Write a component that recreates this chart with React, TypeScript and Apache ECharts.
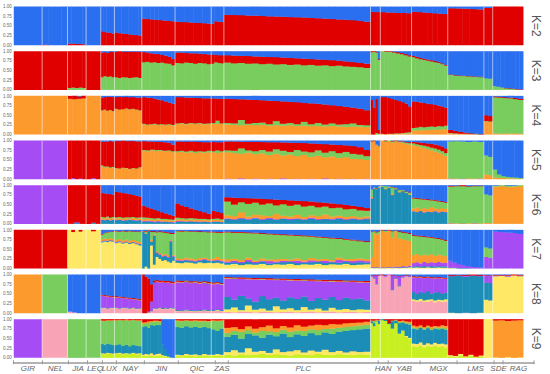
import React, { useEffect, useRef } from "react";
import * as echarts from "echarts";

const BLUE = "#2a6ff0";
const RED = "#e00000";
const GREEN = "#79cc5e";
const ORANGE = "#fd9a2e";
const PURPLE = "#a64cf4";
const TEAL = "#1b8db6";
const YELLOW = "#fee865";
const PINK = "#f8a3b6";
const LIME = "#c8ef20";

const popNames = ["GIR", "NEL", "JIA", "LEQ", "LUX", "NAY", "JIN", "QIC", "ZAS", "PLC", "HAN", "YAB", "MGX", "LMS", "SDE", "RAG"];
const popSizes = [29, 26, 19, 15, 14, 28, 34, 37, 13, 150, 10, 32, 37, 37, 9, 31];
const yTicks = [0, 0.25, 0.5, 0.75, 1];

// Each bar: cumulative top of every cluster layer except the last (bottom -> top); last layer fills to 1.
const k2Colors = [RED, BLUE];
const k2 = [
  [[0]],
  [[0.01], [0], [0], [0]],
  [[0.04], [0.04], [0.03], [0.03], [0.02]],
  [[0]],
  [[0.36], [0.34], [0.33], [0.32], [0.3]],
  [[0.33], [0.31], [0.3], [0.29], [0.28], [0.27], [0.26], [0.25]],
  [[0.69], [0.68], [0.67], [0.66], [0.65], [0.64], [0.63], [0.62]],
  [[0.61], [0.6], [0.6], [0.59], [0.58], [0.58], [0.57], [0.56]],
  [[0.56], [0.62], [0.61], [0.6]],
  [[0.79], [0.785], [0.78], [0.77], [0.765], [0.76], [0.75], [0.745], [0.74], [0.73], [0.725], [0.72], [0.71], [0.7], [0.69], [0.68], [0.67], [0.66], [0.65], [0.63], [0.61]],
  [[0.87], [0.86], [0.86]],
  [[0.86], [0.85], [0.85], [0.84], [0.84], [0.83]],
  [[0.87], [0.86], [0.85], [0.84], [0.83], [0.82], [0.81]],
  [[0.96], [0.955], [0.95], [0.94], [0.93]],
  [[0.97]],
  [[1]],
];

const k3Colors = [GREEN, RED, BLUE];
const k3 = [
  [[0, 1]],
  [[0, 1]],
  [[0.05, 1], [0.06, 1], [0.05, 1], [0.06, 1], [0.05, 1]],
  [[0, 1]],
  [[0.33, 0.97], [0.36, 0.98], [0.34, 0.96], [0.35, 0.99], [0.33, 0.99]],
  [[0.33, 0.99], [0.31, 1], [0.33, 0.99], [0.32, 0.99], [0.31, 0.99], [0.32, 0.99], [0.33, 0.99], [0.31, 0.99]],
  [[0.72, 0.98], [0.73, 0.97], [0.71, 0.95], [0.72, 0.94], [0.7, 0.93], [0.71, 0.91], [0.69, 0.89], [0.68, 0.86], [0.64, 0.8]],
  [[0.7, 0.97], [0.69, 0.97], [0.71, 0.96], [0.7, 0.95], [0.68, 0.95], [0.7, 0.94], [0.69, 0.93], [0.67, 0.92]],
  [[0.68, 0.92], [0.72, 0.91], [0.7, 0.9], [0.69, 0.9]],
  [[0.71, 0.9], [0.69, 0.89], [0.7, 0.885], [0.68, 0.88], [0.69, 0.87], [0.67, 0.86], [0.68, 0.855], [0.66, 0.85], [0.67, 0.84], [0.65, 0.83], [0.66, 0.82], [0.64, 0.81], [0.65, 0.8], [0.63, 0.79], [0.64, 0.78], [0.62, 0.77], [0.63, 0.76], [0.61, 0.74], [0.6, 0.72], [0.59, 0.7], [0.57, 0.68]],
  [[0.98, 1], [0.99, 1], [0.97, 0.99], [0.78, 0.8]],
  [[1, 1], [0.99, 1], [0.99, 1], [0.97, 0.99], [0.95, 0.98], [0.93, 0.96], [0.9, 0.93], [0.87, 0.9]],
  [[0.85, 0.88], [0.82, 0.86], [0.8, 0.83], [0.78, 0.81], [0.76, 0.79], [0.74, 0.77], [0.72, 0.75], [0.7, 0.72], [0.67, 0.69], [0.63, 0.65]],
  [[0.39, 0.4], [0.37, 0.38], [0.36, 0.37], [0.35, 0.36], [0.34, 0.35], [0.33, 0.34]],
  [[0.3, 0.3], [0.29, 0.29]],
  [[0.1, 0.1], [0.08, 0.08], [0.06, 0.06], [0.04, 0.05], [0.03, 0.04], [0.02, 0.03], [0.01, 0.02], [0, 0.01]],
];

const k4Colors = [ORANGE, GREEN, RED, BLUE];
const k4 = [
  [[1, 1, 1]],
  [[1, 1, 1]],
  [[0.93, 0.93, 1], [0.92, 0.92, 1], [0.93, 0.93, 0.99], [0.94, 0.94, 1]],
  [[1, 1, 1]],
  [[0.62, 0.63, 0.96], [0.64, 0.65, 0.97], [0.61, 0.62, 0.98], [0.63, 0.64, 0.98], [0.6, 0.61, 0.97]],
  [[0.66, 0.67, 0.97], [0.64, 0.65, 0.98], [0.66, 0.66, 0.97], [0.67, 0.68, 0.98], [0.65, 0.66, 0.97], [0.66, 0.67, 0.97], [0.64, 0.65, 0.96], [0.62, 0.63, 0.96]],
  [[0.26, 0.28, 0.97], [0.24, 0.26, 0.96], [0.25, 0.27, 0.95], [0.26, 0.28, 0.93], [0.24, 0.26, 0.91], [0.25, 0.27, 0.89], [0.24, 0.26, 0.86], [0.25, 0.27, 0.83], [0.23, 0.25, 0.8]],
  [[0.27, 0.29, 0.97], [0.28, 0.3, 0.97], [0.26, 0.28, 0.96], [0.28, 0.3, 0.96], [0.27, 0.29, 0.95], [0.28, 0.3, 0.95], [0.26, 0.28, 0.94], [0.27, 0.29, 0.94]],
  [[0.27, 0.3, 0.94], [0.28, 0.36, 0.93], [0.27, 0.29, 0.93]],
  [[0.26, 0.3, 0.93], [0.25, 0.29, 0.92], [0.24, 0.38, 0.915], [0.25, 0.28, 0.91], [0.24, 0.3, 0.9], [0.25, 0.31, 0.89], [0.23, 0.27, 0.88], [0.24, 0.35, 0.87], [0.23, 0.28, 0.86], [0.24, 0.3, 0.85], [0.22, 0.27, 0.84], [0.23, 0.33, 0.82], [0.22, 0.27, 0.81], [0.22, 0.3, 0.8], [0.21, 0.26, 0.78], [0.22, 0.29, 0.76], [0.21, 0.26, 0.74], [0.2, 0.27, 0.72], [0.21, 0.29, 0.7], [0.2, 0.25, 0.67], [0.19, 0.24, 0.63]],
  [[0, 0, 0.9], [0, 0, 0.7], [0, 0.04, 0.92], [0, 0.02, 0.12]],
  [[0.02, 0.02, 0.97], [0.01, 0.01, 0.97], [0.02, 0.02, 0.95], [0.01, 0.02, 0.92], [0.02, 0.03, 0.9], [0.02, 0.03, 0.87], [0.03, 0.04, 0.84], [0.02, 0.05, 0.8], [0.03, 0.06, 0.73]],
  [[0.1, 0.17, 0.86], [0.11, 0.18, 0.85], [0.1, 0.2, 0.83], [0.12, 0.19, 0.82], [0.11, 0.2, 0.8], [0.12, 0.21, 0.79], [0.13, 0.2, 0.77], [0.12, 0.22, 0.75], [0.13, 0.21, 0.73], [0.14, 0.23, 0.7]],
  [[0.03, 0.04, 0.12], [0.02, 0.03, 0.09], [0.02, 0.02, 0.07], [0.01, 0.02, 0.05], [0.01, 0.01, 0.03], [0, 0.01, 0.02], [0, 0, 0.01]],
  [[0.34, 0.35, 0.5], [0.33, 0.34, 0.48]],
  [[0.03, 0.97, 0.99], [0.02, 0.96, 0.98], [0.03, 0.95, 0.97], [0.02, 0.94, 0.96], [0.03, 0.92, 0.95], [0.02, 0.9, 0.93]],
];

const k5Colors = [PURPLE, ORANGE, GREEN, RED, BLUE];
const k5 = [
  [[1, 1, 1, 1]],
  [[1, 1, 1, 1]],
  [[0, 0, 0, 1], [0.03, 0.03, 0.03, 1], [0, 0, 0, 1], [0.02, 0.02, 0.02, 1], [0, 0, 0, 1]],
  [[0, 0, 0, 1], [0.03, 0.03, 0.03, 1], [0, 0, 0, 1]],
  [[0, 0.33, 0.36, 0.97], [0, 0.3, 0.33, 0.98], [0, 0.31, 0.33, 0.98], [0, 0.29, 0.31, 0.99], [0, 0.3, 0.32, 0.98]],
  [[0, 0.28, 0.29, 0.99], [0, 0.27, 0.28, 0.99], [0, 0.29, 0.3, 1], [0, 0.28, 0.29, 0.99], [0, 0.26, 0.27, 0.99], [0, 0.28, 0.29, 0.99], [0, 0.27, 0.28, 0.98], [0, 0.3, 0.31, 0.98]],
  [[0, 0.74, 0.76, 0.99], [0, 0.72, 0.75, 0.98], [0, 0.75, 0.77, 0.98], [0, 0.73, 0.76, 0.97], [0, 0.74, 0.76, 0.97], [0, 0.72, 0.74, 0.96], [0, 0.73, 0.75, 0.95], [0, 0.7, 0.73, 0.9]],
  [[0, 0.7, 0.73, 0.98], [0, 0.71, 0.74, 0.98], [0, 0.69, 0.72, 0.97], [0, 0.7, 0.74, 0.98], [0, 0.68, 0.72, 0.97], [0, 0.7, 0.73, 0.97], [0, 0.69, 0.72, 0.96], [0, 0.7, 0.74, 0.96]],
  [[0, 0.7, 0.73, 0.97], [0, 0.68, 0.75, 0.96], [0, 0.7, 0.73, 0.96]],
  [[0.01, 0.7, 0.75, 0.98], [0, 0.68, 0.74, 0.98], [0.02, 0.66, 0.8, 0.975], [0, 0.69, 0.75, 0.97], [0.01, 0.65, 0.73, 0.97], [0, 0.67, 0.76, 0.965], [0.01, 0.63, 0.72, 0.96], [0, 0.66, 0.78, 0.96], [0.02, 0.62, 0.74, 0.955], [0, 0.64, 0.71, 0.95], [0.01, 0.6, 0.76, 0.945], [0, 0.63, 0.72, 0.94], [0.01, 0.58, 0.7, 0.93], [0, 0.61, 0.75, 0.92], [0.02, 0.57, 0.69, 0.91], [0, 0.59, 0.73, 0.9], [0.01, 0.55, 0.68, 0.89], [0, 0.57, 0.71, 0.88], [0.01, 0.53, 0.66, 0.86], [0, 0.52, 0.64, 0.83], [0.01, 0.5, 0.6, 0.76]],
  [[0, 0.97, 0.98, 0.99], [0, 0.99, 0.99, 1], [0, 0.9, 0.9, 0.9], [0, 0.85, 0.86, 0.87]],
  [[0, 1, 1, 1], [0, 0.97, 0.99, 1], [0, 0.99, 1, 1], [0, 0.95, 0.98, 0.99], [0, 0.98, 0.99, 1], [0, 0.96, 0.98, 0.99], [0, 0.94, 0.97, 0.98], [0, 0.92, 0.95, 0.97], [0, 0.9, 0.94, 0.96]],
  [[0, 0.88, 0.93, 0.97], [0, 0.86, 0.91, 0.96], [0, 0.83, 0.89, 0.95], [0, 0.81, 0.87, 0.94], [0, 0.78, 0.85, 0.93], [0, 0.75, 0.82, 0.92], [0, 0.72, 0.8, 0.9], [0, 0.69, 0.77, 0.88], [0, 0.65, 0.73, 0.85], [0, 0.6, 0.68, 0.8]],
  [[0.01, 0.02, 0.98, 0.98], [0, 0.01, 0.99, 0.99], [0.01, 0.01, 0.98, 0.98], [0, 0.02, 0.97, 0.97], [0, 0.01, 0.98, 0.98], [0.01, 0.02, 0.97, 0.97]],
  [[0, 0.12, 0.62, 0.62], [0, 0.1, 0.58, 0.58]],
  [[0, 0.04, 0.25, 0.25], [0, 0.03, 0.12, 0.12], [0, 0.03, 0.08, 0.08], [0, 0.02, 0.06, 0.06], [0, 0.02, 0.05, 0.05], [0, 0.01, 0.04, 0.04], [0, 0.01, 0.03, 0.03]],
];

const k6Colors = [TEAL, PURPLE, ORANGE, GREEN, RED, BLUE];
const k6 = [
  [[0, 1, 1, 1, 1]],
  [[0, 1, 1, 1, 1]],
  [[0, 0, 0, 0, 1], [0.02, 0.04, 0.04, 0.04, 1], [0, 0, 0, 0, 1]],
  [[0, 0, 0, 0, 1], [0.03, 0.03, 0.03, 0.03, 1], [0, 0, 0, 0, 1]],
  [[0.1, 0.11, 0.15, 0.18, 0.8], [0.09, 0.1, 0.14, 0.17, 0.79], [0.1, 0.11, 0.16, 0.19, 0.78], [0.08, 0.09, 0.13, 0.16, 0.77], [0.1, 0.11, 0.15, 0.18, 0.76]],
  [[0.09, 0.1, 0.14, 0.17, 0.83], [0.1, 0.11, 0.15, 0.18, 0.82], [0.08, 0.09, 0.13, 0.16, 0.8], [0.09, 0.1, 0.15, 0.17, 0.79], [0.1, 0.11, 0.14, 0.17, 0.77], [0.09, 0.1, 0.15, 0.18, 0.75], [0.08, 0.09, 0.13, 0.16, 0.73], [0.09, 0.1, 0.14, 0.17, 0.71]],
  [[0.05, 0.07, 0.12, 0.17, 0.47], [0.06, 0.08, 0.13, 0.16, 0.43], [0.05, 0.07, 0.11, 0.15, 0.4], [0.04, 0.06, 0.1, 0.14, 0.36], [0.05, 0.07, 0.11, 0.15, 0.33], [0.04, 0.06, 0.1, 0.13, 0.3], [0.05, 0.06, 0.1, 0.13, 0.27], [0.04, 0.05, 0.09, 0.12, 0.24], [0.03, 0.05, 0.08, 0.11, 0.21]],
  [[0.05, 0.07, 0.11, 0.16, 0.53], [0.06, 0.07, 0.12, 0.15, 0.48], [0.05, 0.06, 0.1, 0.14, 0.44], [0.06, 0.07, 0.11, 0.15, 0.4], [0.05, 0.06, 0.1, 0.14, 0.36], [0.04, 0.06, 0.1, 0.13, 0.33], [0.05, 0.06, 0.1, 0.13, 0.3], [0.04, 0.05, 0.09, 0.12, 0.26]],
  [[0.05, 0.06, 0.1, 0.13, 0.34], [0.05, 0.06, 0.1, 0.14, 0.31], [0.04, 0.05, 0.09, 0.12, 0.28]],
  [[0.12, 0.14, 0.22, 0.58, 0.69], [0.1, 0.12, 0.2, 0.5, 0.68], [0.13, 0.15, 0.3, 0.56, 0.67], [0.11, 0.13, 0.19, 0.52, 0.665], [0.14, 0.16, 0.24, 0.55, 0.66], [0.1, 0.12, 0.22, 0.5, 0.65], [0.12, 0.15, 0.2, 0.53, 0.64], [0.11, 0.12, 0.26, 0.48, 0.63], [0.13, 0.14, 0.21, 0.51, 0.62], [0.1, 0.13, 0.19, 0.47, 0.61], [0.12, 0.14, 0.23, 0.5, 0.6], [0.11, 0.12, 0.18, 0.45, 0.59], [0.13, 0.16, 0.22, 0.47, 0.58], [0.1, 0.12, 0.2, 0.43, 0.56], [0.12, 0.13, 0.24, 0.45, 0.55], [0.11, 0.13, 0.19, 0.41, 0.53], [0.13, 0.15, 0.21, 0.42, 0.51], [0.1, 0.12, 0.18, 0.38, 0.49], [0.12, 0.14, 0.2, 0.39, 0.47], [0.11, 0.12, 0.17, 0.35, 0.44], [0.12, 0.14, 0.19, 0.34, 0.41]],
  [[0.65, 0.66, 0.7, 0.9, 0.9], [0.92, 0.92, 0.93, 0.95, 0.95], [0.9, 0.9, 0.91, 0.92, 0.93], [0.94, 0.94, 0.95, 0.97, 0.97]],
  [[0.96, 0.96, 0.97, 0.99, 0.99], [0.9, 0.9, 0.92, 0.98, 0.98], [0.94, 0.94, 0.95, 0.97, 0.97], [0.75, 0.75, 0.78, 0.95, 0.96], [0.9, 0.9, 0.91, 0.93, 0.94], [0.82, 0.82, 0.84, 0.88, 0.89], [0.85, 0.85, 0.86, 0.88, 0.88], [0.8, 0.8, 0.81, 0.84, 0.85], [0.76, 0.76, 0.78, 0.81, 0.82]],
  [[0.32, 0.33, 0.4, 0.66, 0.68], [0.3, 0.31, 0.42, 0.65, 0.67], [0.33, 0.34, 0.38, 0.64, 0.66], [0.29, 0.3, 0.41, 0.63, 0.65], [0.31, 0.32, 0.39, 0.62, 0.64], [0.3, 0.31, 0.43, 0.61, 0.63], [0.32, 0.33, 0.4, 0.6, 0.62], [0.29, 0.3, 0.38, 0.58, 0.6], [0.31, 0.32, 0.41, 0.57, 0.59], [0.3, 0.31, 0.39, 0.55, 0.57]],
  [[0, 0.01, 0.02, 0.97, 0.99], [0, 0, 0.01, 0.98, 0.99], [0.01, 0.01, 0.02, 0.98, 1], [0, 0, 0.01, 0.97, 0.98], [0, 0.01, 0.02, 0.98, 0.99], [0, 0, 0.01, 0.98, 0.99]],
  [[0, 0, 0.02, 0.77, 0.77], [0, 0, 0.02, 0.74, 0.74]],
  [[0, 0, 0.97, 0.99, 0.99], [0, 0, 0.98, 1, 1], [0, 0, 0.96, 0.99, 0.99], [0, 0, 0.97, 0.99, 0.99], [0, 0, 0.98, 1, 1]],
];

const k7Colors = [YELLOW, TEAL, PURPLE, ORANGE, GREEN, RED, BLUE];
const k7 = [
  [[0, 0, 0, 0, 0, 1]],
  [[0, 0, 0, 0, 0, 1]],
  [[1, 1, 1, 1, 1, 1], [0.95, 0.95, 0.95, 0.95, 0.95, 1], [1, 1, 1, 1, 1, 1], [0.96, 0.96, 0.96, 0.96, 0.96, 1], [1, 1, 1, 1, 1, 1]],
  [[1, 1, 1, 1, 1, 1], [0.97, 0.97, 0.97, 0.97, 0.97, 1], [1, 1, 1, 1, 1, 1]],
  [[0.68, 0.7, 0.71, 0.76, 0.88, 0.9], [0.7, 0.72, 0.73, 0.78, 0.92, 0.93], [0.69, 0.71, 0.72, 0.77, 0.94, 0.95], [0.71, 0.73, 0.74, 0.79, 0.95, 0.96], [0.7, 0.72, 0.73, 0.77, 0.96, 0.97]],
  [[0.66, 0.68, 0.69, 0.74, 0.97, 0.98], [0.68, 0.7, 0.71, 0.76, 0.96, 0.97], [0.65, 0.67, 0.68, 0.73, 0.97, 0.98], [0.67, 0.69, 0.7, 0.75, 0.96, 0.97], [0.64, 0.66, 0.67, 0.72, 0.97, 0.98], [0.66, 0.68, 0.69, 0.74, 0.96, 0.97], [0.63, 0.65, 0.66, 0.71, 0.96, 0.97], [0.6, 0.63, 0.64, 0.69, 0.95, 0.96]],
  [[0, 0.95, 0.95, 0.95, 0.97, 0.98], [0.05, 0.9, 0.9, 0.92, 0.96, 0.98], [0, 0.98, 0.98, 0.98, 0.99, 1], [0.6, 0.7, 0.7, 0.75, 0.95, 0.97], [0.1, 0.85, 0.86, 0.88, 0.95, 0.97], [0.3, 0.4, 0.42, 0.45, 0.94, 0.96], [0.25, 0.35, 0.37, 0.4, 0.95, 0.97], [0.2, 0.3, 0.32, 0.36, 0.94, 0.96], [0.22, 0.32, 0.34, 0.38, 0.93, 0.95], [0.18, 0.28, 0.3, 0.34, 0.92, 0.94], [0.15, 0.7, 0.72, 0.74, 0.9, 0.93], [0.2, 0.3, 0.32, 0.35, 0.9, 0.92]],
  [[0.15, 0.2, 0.22, 0.27, 0.97, 0.98], [0.14, 0.19, 0.21, 0.25, 0.96, 0.98], [0.16, 0.21, 0.23, 0.28, 0.97, 0.98], [0.15, 0.19, 0.21, 0.26, 0.96, 0.97], [0.13, 0.18, 0.2, 0.24, 0.96, 0.97], [0.16, 0.2, 0.22, 0.27, 0.95, 0.97], [0.14, 0.22, 0.24, 0.28, 0.95, 0.96], [0.15, 0.2, 0.21, 0.25, 0.94, 0.96]],
  [[0.14, 0.19, 0.21, 0.26, 0.94, 0.96], [0.15, 0.2, 0.22, 0.3, 0.93, 0.95], [0.13, 0.18, 0.2, 0.25, 0.93, 0.95]],
  [[0.1, 0.15, 0.18, 0.24, 0.94, 0.96], [0.12, 0.16, 0.2, 0.25, 0.93, 0.95], [0.09, 0.14, 0.17, 0.22, 0.93, 0.95], [0.11, 0.17, 0.22, 0.28, 0.92, 0.94], [0.1, 0.14, 0.17, 0.21, 0.91, 0.93], [0.12, 0.18, 0.2, 0.26, 0.9, 0.92], [0.09, 0.13, 0.19, 0.23, 0.89, 0.91], [0.11, 0.15, 0.18, 0.24, 0.88, 0.9], [0.1, 0.16, 0.2, 0.25, 0.87, 0.89], [0.12, 0.17, 0.19, 0.23, 0.86, 0.88], [0.09, 0.14, 0.2, 0.26, 0.85, 0.87], [0.11, 0.15, 0.18, 0.22, 0.84, 0.86], [0.1, 0.16, 0.21, 0.27, 0.83, 0.85], [0.12, 0.17, 0.19, 0.24, 0.81, 0.83], [0.09, 0.14, 0.2, 0.25, 0.8, 0.82], [0.11, 0.16, 0.18, 0.22, 0.78, 0.8], [0.1, 0.15, 0.22, 0.28, 0.77, 0.79], [0.12, 0.17, 0.2, 0.24, 0.75, 0.77], [0.09, 0.14, 0.19, 0.25, 0.73, 0.75], [0.1, 0.16, 0.21, 0.26, 0.71, 0.73], [0.11, 0.15, 0.19, 0.24, 0.69, 0.71]],
  [[0.02, 0.03, 0.04, 0.3, 0.95, 0.96], [0.01, 0.02, 0.03, 0.92, 0.97, 0.98], [0.02, 0.03, 0.04, 0.88, 0.94, 0.95], [0.01, 0.02, 0.03, 0.9, 0.96, 0.97]],
  [[0.01, 0.02, 0.03, 0.97, 0.99, 1], [0.01, 0.02, 0.03, 0.95, 0.98, 0.99], [0.02, 0.03, 0.04, 0.98, 0.99, 1], [0.01, 0.02, 0.03, 0.8, 0.97, 0.98], [0.02, 0.03, 0.05, 0.96, 0.98, 0.99], [0.01, 0.02, 0.04, 0.78, 0.95, 0.97], [0.02, 0.04, 0.06, 0.76, 0.93, 0.95], [0.02, 0.03, 0.05, 0.74, 0.92, 0.94], [0.03, 0.04, 0.07, 0.72, 0.9, 0.92]],
  [[0.02, 0.05, 0.14, 0.35, 0.85, 0.87], [0.03, 0.06, 0.16, 0.38, 0.84, 0.86], [0.02, 0.05, 0.13, 0.33, 0.83, 0.85], [0.02, 0.06, 0.17, 0.36, 0.82, 0.84], [0.03, 0.05, 0.14, 0.34, 0.81, 0.83], [0.02, 0.06, 0.16, 0.37, 0.8, 0.82], [0.02, 0.05, 0.15, 0.33, 0.78, 0.8], [0.03, 0.06, 0.17, 0.36, 0.77, 0.79], [0.02, 0.05, 0.14, 0.34, 0.75, 0.77], [0.02, 0.05, 0.15, 0.32, 0.72, 0.74]],
  [[0.01, 0.02, 0.2, 0.2, 0.2, 0.2], [0.01, 0.02, 0.15, 0.15, 0.15, 0.15], [0, 0.01, 0.11, 0.11, 0.11, 0.11], [0, 0.01, 0.08, 0.08, 0.08, 0.08], [0, 0.01, 0.06, 0.06, 0.06, 0.06], [0, 0, 0.04, 0.04, 0.04, 0.04], [0, 0, 0.03, 0.03, 0.03, 0.03], [0, 0, 0.02, 0.02, 0.02, 0.02]],
  [[0, 0, 0.3, 0.3, 0.55, 0.55], [0, 0, 0.28, 0.28, 0.52, 0.52]],
  [[0, 0, 0.96, 0.96, 0.96, 0.96], [0, 0, 0.95, 0.95, 0.95, 0.95], [0, 0, 0.94, 0.94, 0.94, 0.94], [0, 0, 0.93, 0.93, 0.93, 0.93], [0, 0, 0.92, 0.92, 0.92, 0.92], [0, 0, 0.9, 0.9, 0.9, 0.9]],
];

const k8Colors = [PINK, YELLOW, TEAL, PURPLE, ORANGE, GREEN, RED, BLUE];
const k8 = [
  [[0, 0, 0, 0, 1, 1, 1]],
  [[0, 0, 0, 0, 0, 1, 1]],
  [[0.04, 0.04, 0.04, 0.04, 0.04, 0.04, 0.04], [0.02, 0.02, 0.02, 0.02, 0.02, 0.02, 0.02], [0, 0, 0, 0, 0, 0, 0], [0, 0, 0, 0, 0, 0, 0]],
  [[0, 0, 0, 0, 0, 0, 0]],
  [[0.12, 0.13, 0.14, 0.45, 0.46, 0.46, 0.48], [0.13, 0.14, 0.15, 0.44, 0.45, 0.45, 0.47], [0.11, 0.12, 0.13, 0.43, 0.44, 0.44, 0.46], [0.12, 0.13, 0.14, 0.42, 0.43, 0.43, 0.45], [0.13, 0.14, 0.15, 0.41, 0.42, 0.42, 0.44]],
  [[0.12, 0.13, 0.14, 0.41, 0.42, 0.42, 0.44], [0.11, 0.12, 0.13, 0.4, 0.41, 0.41, 0.43], [0.13, 0.14, 0.15, 0.39, 0.4, 0.4, 0.42], [0.12, 0.13, 0.14, 0.38, 0.39, 0.39, 0.41], [0.11, 0.12, 0.13, 0.37, 0.38, 0.38, 0.4], [0.12, 0.13, 0.14, 0.36, 0.37, 0.37, 0.39], [0.1, 0.11, 0.12, 0.35, 0.36, 0.36, 0.38], [0.11, 0.12, 0.13, 0.33, 0.34, 0.34, 0.36]],
  [[0, 0, 0, 0, 0, 0, 1], [0, 0, 0, 0, 0, 0, 0.95], [0.02, 0.02, 0.03, 0.05, 0.05, 0.05, 0.9], [0.05, 0.05, 0.06, 0.3, 0.3, 0.3, 0.75], [0.1, 0.12, 0.13, 0.8, 0.8, 0.8, 0.85], [0.1, 0.11, 0.12, 0.82, 0.83, 0.83, 0.86], [0.12, 0.13, 0.14, 0.8, 0.81, 0.81, 0.85], [0.1, 0.11, 0.13, 0.81, 0.82, 0.82, 0.85], [0.11, 0.12, 0.14, 0.79, 0.8, 0.8, 0.84], [0.1, 0.11, 0.12, 0.8, 0.81, 0.81, 0.84], [0.12, 0.13, 0.15, 0.78, 0.79, 0.79, 0.83], [0.1, 0.12, 0.13, 0.77, 0.78, 0.78, 0.81]],
  [[0.05, 0.06, 0.08, 0.8, 0.81, 0.82, 0.85], [0.04, 0.05, 0.07, 0.79, 0.8, 0.81, 0.84], [0.06, 0.07, 0.09, 0.81, 0.82, 0.83, 0.85], [0.05, 0.06, 0.08, 0.78, 0.79, 0.8, 0.83], [0.04, 0.05, 0.07, 0.8, 0.81, 0.82, 0.84], [0.05, 0.06, 0.08, 0.77, 0.78, 0.79, 0.82], [0.06, 0.07, 0.09, 0.79, 0.8, 0.81, 0.83], [0.05, 0.06, 0.08, 0.76, 0.77, 0.78, 0.81]],
  [[0.05, 0.06, 0.08, 0.75, 0.76, 0.77, 0.8], [0.06, 0.08, 0.1, 0.77, 0.78, 0.79, 0.81], [0.05, 0.06, 0.08, 0.74, 0.75, 0.76, 0.78]],
  [[0.03, 0.1, 0.42, 0.9, 0.91, 0.92, 0.94], [0.02, 0.15, 0.35, 0.89, 0.9, 0.91, 0.93], [0.04, 0.08, 0.45, 0.89, 0.9, 0.9, 0.93], [0.03, 0.2, 0.38, 0.88, 0.89, 0.9, 0.92], [0.02, 0.09, 0.3, 0.88, 0.89, 0.89, 0.92], [0.04, 0.12, 0.44, 0.87, 0.88, 0.89, 0.91], [0.03, 0.07, 0.36, 0.87, 0.88, 0.88, 0.91], [0.02, 0.18, 0.4, 0.86, 0.87, 0.88, 0.9], [0.03, 0.1, 0.33, 0.86, 0.87, 0.87, 0.9], [0.04, 0.13, 0.41, 0.85, 0.86, 0.87, 0.89], [0.02, 0.08, 0.37, 0.85, 0.86, 0.86, 0.89], [0.03, 0.16, 0.43, 0.84, 0.85, 0.86, 0.88], [0.04, 0.09, 0.32, 0.84, 0.85, 0.85, 0.88], [0.02, 0.12, 0.39, 0.83, 0.84, 0.85, 0.87], [0.03, 0.07, 0.35, 0.83, 0.84, 0.84, 0.87], [0.04, 0.14, 0.42, 0.82, 0.83, 0.84, 0.86], [0.02, 0.09, 0.34, 0.82, 0.83, 0.83, 0.86], [0.03, 0.11, 0.4, 0.81, 0.82, 0.83, 0.85], [0.04, 0.08, 0.36, 0.81, 0.82, 0.82, 0.85], [0.02, 0.1, 0.38, 0.8, 0.81, 0.82, 0.84], [0.03, 0.09, 0.33, 0.8, 0.81, 0.81, 0.84]],
  [[0.95, 0.95, 0.95, 0.97, 0.97, 0.97, 0.98], [0.9, 0.9, 0.92, 0.98, 0.98, 0.98, 0.99], [0.75, 0.75, 0.76, 0.98, 0.98, 0.98, 0.99], [0.97, 0.97, 0.97, 0.98, 0.98, 0.98, 0.99]],
  [[0.98, 0.98, 0.98, 0.99, 0.99, 0.99, 1], [0.95, 0.95, 0.95, 0.98, 0.98, 0.98, 0.99], [0.99, 0.99, 0.99, 1, 1, 1, 1], [0.6, 0.6, 0.62, 0.98, 0.98, 0.98, 0.99], [0.9, 0.9, 0.91, 0.97, 0.97, 0.97, 0.98], [0.7, 0.7, 0.72, 0.96, 0.96, 0.96, 0.97], [0.93, 0.93, 0.94, 0.97, 0.97, 0.97, 0.98], [0.96, 0.96, 0.96, 0.98, 0.98, 0.98, 0.99], [0.94, 0.94, 0.95, 0.97, 0.97, 0.97, 0.98]],
  [[0.32, 0.36, 0.55, 0.93, 0.94, 0.94, 0.96], [0.3, 0.34, 0.5, 0.92, 0.93, 0.93, 0.95], [0.31, 0.37, 0.56, 0.93, 0.94, 0.94, 0.96], [0.29, 0.33, 0.52, 0.91, 0.92, 0.92, 0.94], [0.3, 0.35, 0.57, 0.92, 0.93, 0.93, 0.95], [0.32, 0.36, 0.51, 0.91, 0.92, 0.92, 0.94], [0.28, 0.33, 0.54, 0.9, 0.91, 0.91, 0.93], [0.31, 0.35, 0.55, 0.91, 0.92, 0.92, 0.94], [0.29, 0.34, 0.5, 0.9, 0.91, 0.91, 0.93], [0.3, 0.36, 0.53, 0.89, 0.9, 0.9, 0.92]],
  [[0, 0.01, 0.96, 0.97, 0.97, 0.97, 0.99], [0, 0, 0.97, 0.98, 0.98, 0.98, 0.99], [0.01, 0.01, 0.95, 0.97, 0.97, 0.97, 0.99], [0, 0, 0.97, 0.98, 0.98, 0.98, 1], [0, 0.01, 0.96, 0.97, 0.97, 0.97, 0.99]],
  [[0, 0.35, 0.8, 0.98, 0.98, 0.98, 0.99], [0, 0.33, 0.78, 0.97, 0.97, 0.97, 0.98]],
  [[0, 0.96, 0.96, 0.97, 0.98, 0.98, 0.99], [0, 0.97, 0.97, 0.98, 0.98, 0.98, 0.99], [0, 0.95, 0.95, 0.97, 0.98, 0.98, 0.99], [0, 0.97, 0.97, 0.98, 0.99, 0.99, 1], [0, 0.96, 0.96, 0.97, 0.98, 0.98, 0.99]],
];

const k9Colors = [LIME, YELLOW, TEAL, PURPLE, PINK, BLUE, GREEN, ORANGE, RED];
const k9 = [
  [[0, 0, 0, 1, 1, 1, 1, 1]],
  [[0, 0, 0, 0, 1, 1, 1, 1]],
  [[0, 0, 0, 0, 0, 0, 1, 1]],
  [[0, 0, 0, 0, 0, 0, 1, 1]],
  [[0.1, 0.12, 0.36, 0.36, 0.36, 0.36, 0.95, 0.97], [0.09, 0.11, 0.34, 0.34, 0.34, 0.34, 0.96, 0.97], [0.11, 0.13, 0.37, 0.37, 0.37, 0.37, 0.97, 0.98], [0.1, 0.12, 0.35, 0.35, 0.35, 0.35, 0.96, 0.98], [0.09, 0.11, 0.33, 0.33, 0.33, 0.33, 0.97, 0.98]],
  [[0.1, 0.12, 0.33, 0.33, 0.33, 0.33, 0.97, 0.98], [0.11, 0.13, 0.35, 0.35, 0.35, 0.35, 0.98, 0.99], [0.09, 0.11, 0.31, 0.31, 0.31, 0.31, 0.97, 0.98], [0.1, 0.12, 0.34, 0.34, 0.34, 0.34, 0.98, 0.99], [0.1, 0.11, 0.3, 0.3, 0.3, 0.3, 0.97, 0.98], [0.11, 0.13, 0.33, 0.33, 0.33, 0.33, 0.98, 0.99], [0.09, 0.11, 0.32, 0.32, 0.32, 0.32, 0.97, 0.98], [0.1, 0.12, 0.3, 0.3, 0.3, 0.3, 0.96, 0.98]],
  [[0.05, 0.08, 0.8, 0.8, 0.8, 0.8, 0.88, 0.92], [0.04, 0.1, 0.82, 0.82, 0.82, 0.82, 0.9, 0.93], [0.06, 0.09, 0.78, 0.78, 0.78, 0.78, 0.9, 0.95], [0.05, 0.12, 0.85, 0.85, 0.85, 0.85, 0.93, 0.96], [0.04, 0.08, 0.84, 0.84, 0.84, 0.84, 0.94, 0.97], [0.05, 0.1, 0.86, 0.86, 0.86, 0.86, 0.95, 0.97], [0.06, 0.11, 0.85, 0.85, 0.85, 0.85, 0.93, 0.96], [0.04, 0.07, 0.35, 0.35, 0.35, 1, 1, 1], [0.03, 0.05, 0.22, 0.22, 0.22, 1, 1, 1], [0.02, 0.03, 0.1, 0.1, 0.1, 1, 1, 1], [0, 0.01, 0.02, 0.02, 0.02, 1, 1, 1], [0, 0, 0.01, 0.01, 0.01, 1, 1, 1]],
  [[0.05, 0.08, 0.8, 0.8, 0.8, 0.8, 0.96, 0.98], [0.04, 0.07, 0.78, 0.78, 0.78, 0.78, 0.95, 0.97], [0.06, 0.1, 0.82, 0.82, 0.82, 0.82, 0.97, 0.98], [0.05, 0.08, 0.79, 0.79, 0.79, 0.79, 0.95, 0.97], [0.04, 0.09, 0.81, 0.81, 0.81, 0.81, 0.96, 0.98], [0.05, 0.07, 0.78, 0.78, 0.78, 0.78, 0.94, 0.97], [0.06, 0.1, 0.8, 0.8, 0.8, 0.8, 0.95, 0.97], [0.05, 0.08, 0.77, 0.77, 0.77, 0.77, 0.94, 0.96]],
  [[0.05, 0.08, 0.74, 0.74, 0.74, 0.74, 0.96, 0.98], [0.06, 0.1, 0.7, 0.7, 0.7, 0.7, 0.95, 0.97], [0.05, 0.08, 0.76, 0.76, 0.76, 0.76, 0.96, 0.98]],
  [[0.08, 0.15, 0.55, 0.55, 0.55, 0.55, 0.65, 0.78], [0.06, 0.2, 0.6, 0.6, 0.6, 0.6, 0.7, 0.8], [0.09, 0.14, 0.5, 0.5, 0.5, 0.5, 0.68, 0.75], [0.07, 0.25, 0.62, 0.62, 0.62, 0.62, 0.72, 0.82], [0.08, 0.16, 0.58, 0.58, 0.58, 0.58, 0.66, 0.76], [0.1, 0.18, 0.52, 0.52, 0.52, 0.52, 0.7, 0.8], [0.07, 0.13, 0.6, 0.6, 0.6, 0.6, 0.69, 0.84], [0.09, 0.22, 0.56, 0.56, 0.56, 0.56, 0.67, 0.77], [0.08, 0.15, 0.63, 0.63, 0.63, 0.63, 0.73, 0.83], [0.06, 0.17, 0.54, 0.54, 0.54, 0.54, 0.68, 0.79], [0.09, 0.2, 0.61, 0.61, 0.61, 0.61, 0.71, 0.85], [0.08, 0.14, 0.57, 0.57, 0.57, 0.57, 0.7, 0.81], [0.07, 0.19, 0.64, 0.64, 0.64, 0.64, 0.74, 0.84], [0.1, 0.16, 0.59, 0.59, 0.59, 0.59, 0.72, 0.86], [0.08, 0.21, 0.66, 0.66, 0.66, 0.66, 0.75, 0.85], [0.07, 0.15, 0.62, 0.62, 0.62, 0.62, 0.76, 0.88], [0.09, 0.18, 0.68, 0.68, 0.68, 0.68, 0.78, 0.87], [0.08, 0.14, 0.7, 0.7, 0.7, 0.7, 0.8, 0.9], [0.07, 0.17, 0.72, 0.72, 0.72, 0.72, 0.82, 0.91], [0.09, 0.15, 0.74, 0.74, 0.74, 0.74, 0.84, 0.92], [0.08, 0.16, 0.76, 0.76, 0.76, 0.76, 0.86, 0.94]],
  [[0.9, 0.9, 0.95, 0.95, 0.95, 0.95, 0.96, 0.97], [0.8, 0.82, 0.9, 0.9, 0.9, 0.9, 0.95, 0.97], [0.95, 0.95, 0.97, 0.97, 0.97, 0.97, 0.98, 0.99], [0.88, 0.88, 0.96, 0.96, 0.96, 0.96, 0.97, 0.98]],
  [[0.98, 0.98, 1, 1, 1, 1, 1, 1], [0.96, 0.96, 0.99, 0.99, 0.99, 0.99, 0.99, 0.99], [0.88, 0.88, 0.9, 0.9, 0.9, 0.9, 0.9, 0.9], [0.75, 0.76, 0.95, 0.95, 0.95, 0.95, 0.96, 0.97], [0.9, 0.9, 0.97, 0.97, 0.97, 0.97, 0.98, 0.99], [0.62, 0.63, 0.9, 0.9, 0.9, 0.9, 0.93, 0.96], [0.7, 0.71, 0.92, 0.92, 0.92, 0.92, 0.94, 0.97], [0.55, 0.57, 0.88, 0.88, 0.88, 0.88, 0.91, 0.95], [0.5, 0.52, 0.86, 0.86, 0.86, 0.86, 0.9, 0.94]],
  [[0.3, 0.37, 0.76, 0.76, 0.76, 0.76, 0.79, 0.84], [0.28, 0.36, 0.74, 0.74, 0.74, 0.74, 0.77, 0.82], [0.32, 0.4, 0.78, 0.78, 0.78, 0.78, 0.8, 0.85], [0.27, 0.34, 0.73, 0.73, 0.73, 0.73, 0.76, 0.8], [0.3, 0.38, 0.77, 0.77, 0.77, 0.77, 0.8, 0.84], [0.29, 0.35, 0.72, 0.72, 0.72, 0.72, 0.75, 0.81], [0.31, 0.39, 0.76, 0.76, 0.76, 0.76, 0.79, 0.83], [0.28, 0.36, 0.74, 0.74, 0.74, 0.74, 0.78, 0.82], [0.3, 0.37, 0.75, 0.75, 0.75, 0.75, 0.79, 0.85], [0.27, 0.35, 0.73, 0.73, 0.73, 0.73, 0.77, 0.83]],
  [[0.04, 0.07, 0.07, 0.07, 0.07, 0.07, 0.07, 0.07], [0.02, 0.05, 0.05, 0.05, 0.05, 0.05, 0.05, 0.05], [0.06, 0.1, 0.1, 0.1, 0.1, 0.1, 0.1, 0.1], [0.03, 0.04, 0.04, 0.04, 0.04, 0.04, 0.04, 0.04], [0.05, 0.08, 0.08, 0.08, 0.08, 0.08, 0.08, 0.08], [0.02, 0.03, 0.03, 0.03, 0.03, 0.03, 0.03, 0.03], [0.04, 0.06, 0.06, 0.06, 0.06, 0.06, 0.06, 0.06]],
  [[0, 1, 1, 1, 1, 1, 1, 1]],
  [[0, 0.01, 0.01, 0.01, 0.01, 0.01, 0.01, 0.97], [0, 0, 0, 0, 0, 0, 0, 0.98], [0, 0.02, 0.02, 0.02, 0.02, 0.02, 0.02, 0.96], [0, 0, 0, 0, 0, 0, 0, 0.97], [0, 0.01, 0.01, 0.01, 0.01, 0.01, 0.01, 0.98]],
];

const panels = [
  { label: "K=2", colors: k2Colors, data: k2 },
  { label: "K=3", colors: k3Colors, data: k3 },
  { label: "K=4", colors: k4Colors, data: k4 },
  { label: "K=5", colors: k5Colors, data: k5 },
  { label: "K=6", colors: k6Colors, data: k6 },
  { label: "K=7", colors: k7Colors, data: k7 },
  { label: "K=8", colors: k8Colors, data: k8 },
  { label: "K=9", colors: k9Colors, data: k9 },
];

const FONT = "'Liberation Sans', Arial, sans-serif";

export default function App() {
  const ref = useRef<HTMLDivElement>(null);
  useEffect(() => {
    document.body.style.margin = "0";
    const chart = echarts.init(ref.current!, null, { renderer: "svg" });
    const starts: number[] = [];
    let acc = 0;
    popSizes.forEach((s) => {
      starts.push(acc);
      acc += s;
    });
    const total = acc;
    const grid: any[] = [];
    const xAxis: any[] = [];
    const yAxis: any[] = [];
    const series: any[] = [];
    const L = 13.5;
    const R = 16;

    panels.forEach((pn, i) => {
      grid.push({ left: L, right: R, top: 6.7 + i * 44.66, height: 38.4 });
      xAxis.push({ type: "value", gridIndex: i, min: 0, max: total, show: false });
      yAxis.push({
        type: "value", gridIndex: i, min: 0, max: 1, interval: 0.25,
        axisLine: { show: false }, axisTick: { show: false }, splitLine: { show: false },
        axisLabel: { fontSize: 4.5, color: "#666", margin: 2, fontFamily: FONT, formatter: (v: number) => v.toFixed(2) },
      });
      yAxis.push({
        type: "value", gridIndex: i, position: "right", min: 0, max: 1,
        axisLine: { show: false }, axisTick: { show: false }, splitLine: { show: false }, axisLabel: { show: false },
        name: pn.label, nameLocation: "middle", nameRotate: -90, nameGap: 7,
        nameTextStyle: { fontSize: 12, color: "#555", fontFamily: FONT },
      });
      const K = pn.colors.length;
      const items: number[][] = [];
      pn.data.forEach((bars, p) => {
        const w = popSizes[p] / bars.length;
        bars.forEach((cum, b) => {
          const x0 = starts[p] + b * w;
          items.push([x0, x0 + w, ...cum]);
        });
      });
      series.push({
        type: "custom", xAxisIndex: i, yAxisIndex: 2 * i, silent: true, data: items,
        renderItem: (params: any, api: any) => {
          const x0 = api.value(0);
          const x1 = api.value(1);
          let prev = 0;
          const children: any[] = [];
          for (let j = 0; j < K; j++) {
            const top = j < K - 1 ? api.value(2 + j) : 1;
            if (top > prev + 1e-6) {
              const a = api.coord([x0, top]);
              const c = api.coord([x1, prev]);
              children.push({
                type: "rect",
                shape: { x: a[0], y: a[1] - 0.15, width: c[0] - a[0] + 0.45, height: c[1] - a[1] + 0.3 },
                style: { fill: pn.colors[j] },
              });
              prev = top;
            }
          }
          return { type: "group", children };
        },
      });
      series.push({
        type: "custom", xAxisIndex: i, yAxisIndex: 2 * i, silent: true, z: 5,
        data: starts.slice(1).map((s) => [s]),
        renderItem: (params: any, api: any) => {
          const a = api.coord([api.value(0), 1]);
          const c = api.coord([api.value(0), 0]);
          return {
            type: "line",
            shape: { x1: a[0], y1: a[1], x2: c[0], y2: c[1] },
            style: { stroke: "rgba(255,255,255,0.55)", lineWidth: 1 },
          };
        },
      });
    });

    // bottom population axis
    const gi = panels.length;
    grid.push({ left: L, right: R, top: 361.3, height: 1 });
    xAxis.push({
      type: "value", gridIndex: gi, min: 0, max: total,
      axisLine: { show: true, lineStyle: { color: "#9a9a9a", width: 1.5 } },
      axisTick: { show: false }, axisLabel: { show: false }, splitLine: { show: false },
    });
    yAxis.push({ type: "value", gridIndex: gi, min: 0, max: 1, show: false });
    const bounds = [...starts, total];
    series.push({
      type: "custom", xAxisIndex: gi, yAxisIndex: yAxis.length - 1, silent: true,
      data: bounds.map((b) => [b]),
      renderItem: (params: any, api: any) => {
        const c = api.coord([api.value(0), 0]);
        return {
          type: "line",
          shape: { x1: c[0], y1: c[1] - 2, x2: c[0], y2: c[1] + 2 },
          style: { stroke: "#9a9a9a", lineWidth: 1 },
        };
      },
    });
    series.push({
      type: "custom", xAxisIndex: gi, yAxisIndex: yAxis.length - 1, silent: true,
      data: popNames.map((n, p) => ({ name: n, value: [starts[p] + popSizes[p] / 2] })),
      renderItem: (params: any, api: any) => {
        const c = api.coord([api.value(0), 0]);
        return {
          type: "text",
          style: {
            text: popNames[params.dataIndex], x: c[0], y: c[1] + 6, align: "center", verticalAlign: "middle",
            fontSize: 8, fontStyle: "italic", fill: "#666", fontFamily: FONT,
          },
        };
      },
    });

    chart.setOption({ animation: false, textStyle: { fontFamily: FONT }, grid, xAxis, yAxis, series });
    return () => chart.dispose();
  }, []);
  return <div ref={ref} style={{ width: 550, height: 374 }} />;
}
